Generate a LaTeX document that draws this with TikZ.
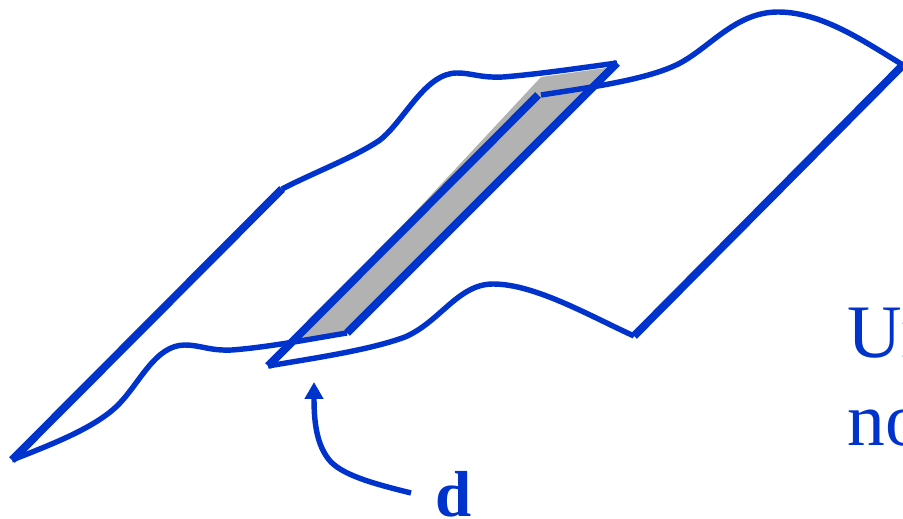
\documentclass[tikz,border=0pt]{standalone}
\usepackage{fontspec}
\setmainfont{Liberation Serif}
\definecolor{sheetblue}{HTML}{0033CC}
\definecolor{stripgray}{HTML}{B2B2B2}
\usetikzlibrary{arrows.meta,positioning}

\begin{document}
\begin{tikzpicture}[
  x=0.02cm, y=-0.02cm,
  edgeline/.style={draw=sheetblue, line width=4.5pt},
  curveline/.style={draw=sheetblue, line width=3.1pt},
  strip/.style={fill=stripgray, draw=none},
  pointer/.style={-{Stealth[length=9.6pt,width=10.2pt,inset=0pt]}, sheetblue, line width=3.1pt},
  bigtext/.style={text=sheetblue, font=\fontsize{43}{50}\selectfont, anchor=base west, inner sep=0pt},
  marktext/.style={text=sheetblue, font=\fontsize{37}{44}\selectfont\bfseries, anchor=base west, inner sep=0pt},
]
  \useasboundingbox (0,0) rectangle (903,519);
  \clip (0,0) rectangle (903,519);

  % gray strip between the two sheets
  \fill[strip] (296,340) -- (347,333) -- (606,68) -- (541,77) -- cycle;

  % left sheet
  \draw[edgeline] (12,460) -- (282,189);
  \draw[edgeline] (347,333) -- (617,63);
  \draw[curveline] (12,460) .. controls (50,445) and (95,428) .. (118,405)
    .. controls (140,383) and (155,345) .. (185,345)
    .. controls (200,345) and (210,351) .. (232,350)
    .. controls (270,347) and (310,339) .. (347,333);
  \draw[curveline] (282,189) .. controls (315,172) and (355,157) .. (380,140)
    .. controls (405,120) and (425,73) .. (457,73)
    .. controls (472,73) and (480,78) .. (503,77)
    .. controls (540,74) and (580,68) .. (617,63);

  % right sheet
  \draw[edgeline] (268,366) -- (538,95);
  \draw[edgeline] (634,336) -- (903,65);
  \draw[curveline] (268,366) .. controls (315,358) and (370,350) .. (405,337)
    .. controls (440,322) and (458,284) .. (493,284)
    .. controls (535,284) and (590,316) .. (634,336);
  \draw[curveline] (541,95) .. controls (585,88) and (650,80) .. (682,62)
    .. controls (712,45) and (737,12) .. (778,12)
    .. controls (822,12) and (865,42) .. (903,65);

  % label with its pointer
  \node[marktext] (mark) at (435,517) {d};
  \coordinate (tip) at (314,382);
  \draw[pointer] (411,493) .. controls (375,484) and (345,476) .. (331,462)
    .. controls (316,446) and (314,420) .. (tip);

  \node[bigtext] (first) at (847,358) {Un};
  \node[bigtext] (second) at (847,446) {no};
\end{tikzpicture}
\end{document}
